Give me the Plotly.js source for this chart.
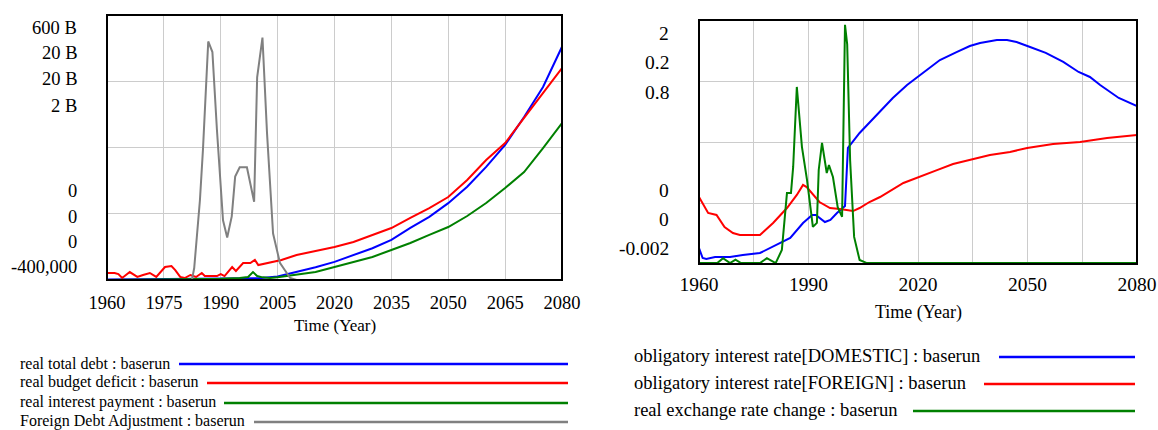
<!DOCTYPE html>
<html><head><meta charset="utf-8">
<script src="https://cdn.plot.ly/plotly-3.0.1.min.js"></script>
<style>html,body{margin:0;padding:0;background:#fff}#chart{width:1158px;height:430px}</style>
</head><body><div id="chart"></div>
<script>
// ---------- DATA ----------
// Left panel (years, values)
var debtYears   = [1960,1970,1980,1990,1995,2000,2005,2010,2015,2020,2025,2030,2035,2040,2045,2050,2055,2060,2065,2070,2075,2080];
var debtVals    = [1e9,1.5e9,2e9,3e9,3.5e9,4e9,8e9,18e9,29e9,41e9,57e9,72e9,91e9,118e9,143e9,174e9,211e9,256e9,306e9,369e9,437e9,528e9];
var deficitYears= [1960,1962,1963,1964,1966,1968,1969.5,1971.3,1973,1975.3,1977,1978,1979.3,1980.5,1982,1983.5,1985,1985.8,1989,1990,1991,1993,1994,1995.9,1997.8,1999,1999.9,2002,2006,2010,2015,2020,2025,2030,2035,2040,2045,2050,2055,2060,2065,2070,2075,2080];
var deficitVals = [0.53e9,0.53e9,0.45e9,0.15e9,0.6e9,0.23e9,0.38e9,0.53e9,0.23e9,0.98e9,1.06e9,0.75e9,0.23e9,0.15e9,0.38e9,0.23e9,0.53e9,0.3e9,0.3e9,0.45e9,0.3e9,0.98e9,0.68e9,1.28e9,1.28e9,1.51e9,1.13e9,1.28e9,1.51e9,1.89e9,2.19e9,2.49e9,2.87e9,3.4e9,3.92e9,4.68e9,5.43e9,6.26e9,7.55e9,9.06e9,10.34e9,12.23e9,14.11e9,16.0e9];
var interestYears=[1960,1985,1990,1995,1997.2,1998.5,1999.6,2001,2003,2005,2010,2015,2020,2025,2030,2035,2040,2045,2050,2055,2060,2065,2070,2075,2080];
var interestVals= [0,0.05e9,0.1e9,0.15e9,0.23e9,0.6e9,0.3e9,0.2e9,0.15e9,0.2e9,0.38e9,0.6e9,0.98e9,1.36e9,1.74e9,2.26e9,2.79e9,3.4e9,4.0e9,4.83e9,5.81e9,6.94e9,8.15e9,9.96e9,11.85e9];
var fdaYears    = [1960,1982.4,1983,1984.5,1985.3,1986,1986.7,1987.8,1989,1990.6,1991.7,1992.9,1993.8,1995,1996.9,1998.8,1999.6,2001,2002.2,2003.8,2005.6,2008.3,2010,2080];
var fdaVals     = [0,0,0.09e9,0.6e9,0.98e9,1.36e9,1.8e9,1.72e9,1.13e9,0.45e9,0.32e9,0.48e9,0.78e9,0.85e9,0.85e9,0.59e9,1.53e9,1.83e9,1.11e9,0.35e9,0.13e9,0.015e9,0,0];

// Right panel
var domYears = [1960,1961,1962,1964.4,1968.5,1972,1976.7,1982.2,1985,1988.5,1991,1992,1994.5,1996,1997.8,2000,2000.8,2004,2009.6,2013.1,2017,2020.5,2023.3,2026,2030.7,2034.2,2037,2041.6,2044.4,2047,2050.7,2055,2059.8,2064,2067.1,2069.9,2075,2080];
var domVals  = [0.131,0.049,0.041,0.057,0.057,0.074,0.090,0.172,0.213,0.336,0.402,0.402,0.344,0.361,0.418,0.475,0.951,1.074,1.246,1.361,1.467,1.549,1.615,1.672,1.738,1.787,1.811,1.836,1.836,1.820,1.779,1.730,1.656,1.574,1.533,1.467,1.361,1.295];
var forYears = [1960,1961,1962.5,1964.8,1967,1969.3,1971.2,1974.5,1976.7,1980.3,1984.1,1986.8,1988.5,1989.5,1991.2,1993,1995.9,1998.6,2002.2,2004,2006.7,2009.6,2016,2020.5,2025.2,2029.6,2035,2039.7,2045.2,2049.9,2057,2064.4,2071.8,2080];
var forVals  = [0.0549,0.05,0.0418,0.0402,0.0303,0.0254,0.0238,0.0238,0.0238,0.0336,0.0459,0.0566,0.0648,0.063,0.0566,0.0508,0.0459,0.0451,0.0434,0.0459,0.0508,0.0549,0.0664,0.0713,0.077,0.082,0.0861,0.0893,0.0918,0.0951,0.0984,0.1,0.1033,0.1057];
var fxYears  = [1960,1965,1966.6,1968.5,1970,1971.5,1976.7,1978.6,1981,1982.7,1984.1,1985.2,1985.8,1986.8,1988.2,1989.6,1991.2,1992.3,1992.8,1993.7,1995,1995.6,1996.7,1998,1999.2,2000,2000.6,2001.4,2002.5,2004,2006,2080];
var fxVals   = [0.001,0.001,0.017,0.001,0.012,0.001,0.001,0.017,0.001,0.044,0.231,0.231,0.317,0.58,0.383,0.274,0.12,0.133,0.307,0.396,0.297,0.323,0.284,0.185,0.153,0.784,0.72,0.34,0.087,0.011,0.001,0.001];

var xTicksL = [1960,1975,1990,2005,2020,2035,2050,2065,2080];
var xTicksR = [1960,1975,1990,2005,2020,2035,2050,2065,2080];
var xTextR  = ['1960','','1990','','2020','','2050','','2080'];

var yTopL = ['600 B','20 B','20 B','2 B'];
var yBotL = ['0','0','0','-400,000'];
var yTopR = ['2','0.2','0.8'];
var yBotR = ['0','0','-0.002'];

var legendL = ['real total debt : baserun','real budget deficit : baserun','real interest payment : baserun','Foreign Debt Adjustment : baserun'];
var legendR = ['obligatory interest rate[DOMESTIC] : baserun','obligatory interest rate[FOREIGN] : baserun','real exchange rate change : baserun'];
var colorsL = ['#0000ff','#ff0000','#008000','#808080'];
var colorsR = ['#0000ff','#ff0000','#008000'];

// ---------- LAYOUT (pixel geometry) ----------
var W = 1158, H = 430;
function px(x){return x/W;} function py(y){return 1-y/H;}
var L = {x0:107,x1:562,y0:15,y1:280};
var R = {x0:699,x1:1137,y0:20,y1:264};
var FONT = "'Liberation Serif', 'DejaVu Serif', serif";

var lw = 2;
var traces = [
  {x:fdaYears,y:fdaVals,xaxis:'x',yaxis:'y4',line:{color:colorsL[3],width:lw}},
  {x:interestYears,y:interestVals,xaxis:'x',yaxis:'y3',line:{color:colorsL[2],width:lw}},
  {x:deficitYears,y:deficitVals,xaxis:'x',yaxis:'y2',line:{color:colorsL[1],width:lw}},
  {x:debtYears,y:debtVals,xaxis:'x',yaxis:'y',line:{color:colorsL[0],width:lw}},
  {x:fxYears,y:fxVals,xaxis:'x2',yaxis:'y7',line:{color:colorsR[2],width:lw}},
  {x:forYears,y:forVals,xaxis:'x2',yaxis:'y6',line:{color:colorsR[1],width:lw}},
  {x:domYears,y:domVals,xaxis:'x2',yaxis:'y5',line:{color:colorsR[0],width:lw}}
];
traces.forEach(function(t){t.type='scatter';t.mode='lines';t.hoverinfo='skip';t.showlegend=false;});

var grid = '#cccccc';
var domL = {x:[px(L.x0),px(L.x1)], y:[py(L.y1),py(L.y0)]};
var domR = {x:[px(R.x0),px(R.x1)], y:[py(R.y1),py(R.y0)]};
function hiddenY(over, anchor, range){return {overlaying:over,anchor:anchor,range:range,visible:false,domain:over==='y'?domL.y:domR.y};}

var layout = {
  width:W,height:H,margin:{l:0,r:0,t:0,b:0},paper_bgcolor:'#fff',plot_bgcolor:'#fff',
  font:{family:FONT,color:'#000',size:18},
  showlegend:false,
  xaxis:{domain:domL.x,anchor:'y',range:[1960,2080],tickvals:xTicksL,ticktext:xTicksL.map(String),
         showgrid:true,gridcolor:grid,gridwidth:1,zeroline:false,showline:false,
         ticks:'outside',ticklen:6,tickcolor:'rgba(0,0,0,0)',tickfont:{size:18.5,family:FONT,color:'#000'}},
  yaxis:{domain:domL.y,anchor:'x',range:[0,600e9],tickvals:[150e9,300e9,450e9],showticklabels:false,
         showgrid:true,gridcolor:grid,zeroline:false,showline:false,ticks:''},
  yaxis2:hiddenY('y','x',[0,20e9]),
  yaxis3:hiddenY('y','x',[0,20e9]),
  yaxis4:hiddenY('y','x',[-400000,2e9]),
  xaxis2:{domain:domR.x,anchor:'y5',range:[1960,2080],tickvals:xTicksR,ticktext:xTextR,
         showgrid:true,gridcolor:grid,gridwidth:1,zeroline:false,showline:false,
         ticks:'outside',ticklen:3,tickcolor:'rgba(0,0,0,0)',tickfont:{size:19.5,family:FONT,color:'#000'}},
  yaxis5:{domain:domR.y,anchor:'x2',range:[0,2],tickvals:[0.5,1,1.5],showticklabels:false,
         showgrid:true,gridcolor:grid,zeroline:false,showline:false,ticks:''},
  yaxis6:hiddenY('y5','x2',[0,0.2]),
  yaxis7:hiddenY('y5','x2',[-0.002,0.8]),
  shapes:[],annotations:[]
};

// frames
[L,R].forEach(function(b){
  layout.shapes.push({type:'rect',xref:'paper',yref:'paper',x0:px(b.x0),x1:px(b.x1),y0:py(b.y1),y1:py(b.y0),
    line:{color:'#000',width:2},layer:'above'});
});

function label(text,x,y,size,anchor){
  layout.annotations.push({text:text,xref:'paper',yref:'paper',x:px(x),y:py(y),xanchor:anchor,yanchor:'middle',
    showarrow:false,font:{family:FONT,size:size,color:'#000'}});
}
// y labels left
var topYL=[28,53,79,106], botYL=[191,217,242,267];
yTopL.forEach(function(t,i){label(t,79,topYL[i],18.5,'right');});
yBotL.forEach(function(t,i){label(t,79,botYL[i],18.5,'right');});
// y labels right
var topYR=[33,63,93], botYR=[191,219,248];
yTopR.forEach(function(t,i){label(t,671,topYR[i],19.5,'right');});
yBotR.forEach(function(t,i){label(t,671,botYR[i],19.5,'right');});
// axis titles
label('Time (Year)',(L.x0+L.x1)/2,325,17,'center');
label('Time (Year)',(R.x0+R.x1)/2,312,18,'center');
// legends
var rowsL=[364,383,403,422], startL=[179,207,224,254];
legendL.forEach(function(t,i){
  label(t,18,rowsL[i]-1,16,'left');
  layout.shapes.push({type:'line',xref:'paper',yref:'paper',x0:px(startL[i]),x1:px(568),y0:py(rowsL[i]),y1:py(rowsL[i]),line:{color:colorsL[i],width:2.5}});
});
var rowsR=[357,384,411], startR=[999,984,913];
legendR.forEach(function(t,i){
  label(t,632,rowsR[i]-1,18.5,'left');
  layout.shapes.push({type:'line',xref:'paper',yref:'paper',x0:px(startR[i]),x1:px(1135),y0:py(rowsR[i]),y1:py(rowsR[i]),line:{color:colorsR[i],width:2.5}});
});

Plotly.newPlot('chart',traces,layout,{staticPlot:true,displayModeBar:false});
</script></body></html>
